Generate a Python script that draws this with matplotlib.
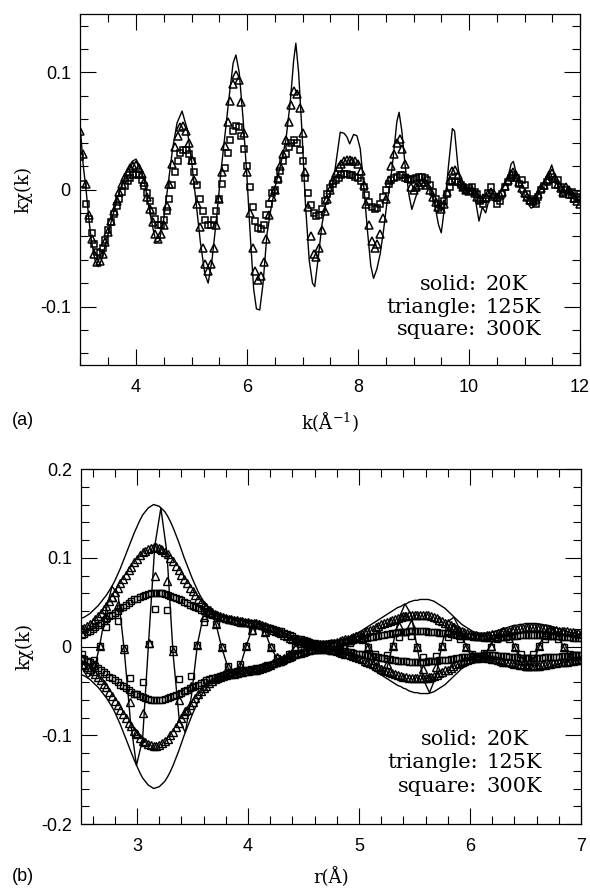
import numpy as np
import matplotlib
matplotlib.use('Agg')
import matplotlib.pyplot as plt
from matplotlib.ticker import MultipleLocator, FuncFormatter

plt.rcParams['font.family'] = 'Liberation Sans'
plt.rcParams['mathtext.fontset'] = 'dejavuserif'
plt.rcParams['mathtext.default'] = 'regular'
SERIF = 'DejaVu Serif'

# ---------------- (a) k-space chi(k) ----------------
# 20K, drawn as a line
k_20 = [3.00, 3.05, 3.10, 3.15, 3.20, 3.26, 3.32, 3.38, 3.45, 3.55,
        3.65, 3.75, 3.85, 3.93, 4.00, 4.07, 4.15, 4.22, 4.30, 4.36,
        4.42, 4.50, 4.58, 4.66, 4.74, 4.83, 4.92, 5.00, 5.08, 5.16,
        5.24, 5.30, 5.37, 5.45, 5.53, 5.60, 5.68, 5.75, 5.80, 5.86,
        5.93, 6.00, 6.06, 6.12, 6.17, 6.23, 6.29, 6.36, 6.43, 6.52,
        6.60, 6.70, 6.78, 6.84, 6.88, 6.93, 6.99, 7.05, 7.12, 7.18,
        7.22, 7.28, 7.35, 7.42, 7.50, 7.58, 7.64, 7.68, 7.75, 7.80,
        7.85, 7.92, 7.98, 8.04, 8.10, 8.17, 8.23, 8.28, 8.34, 8.40,
        8.46, 8.52, 8.58, 8.64, 8.70, 8.74, 8.79, 8.85, 8.92, 8.97,
        9.03, 9.10, 9.20, 9.30, 9.38, 9.45, 9.50, 9.56, 9.63, 9.70,
        9.74, 9.80, 9.86, 9.95, 10.05, 10.12, 10.18, 10.24, 10.30, 10.38,
        10.46, 10.55, 10.62, 10.70, 10.76, 10.80, 10.86, 10.93, 11.00, 11.06,
        11.12, 11.18, 11.26, 11.34, 11.42, 11.49, 11.55, 11.62, 11.70, 11.78,
        11.86, 11.94, 12.00]
chi_20 = [0.050, 0.020, 0.000, -0.025, -0.045, -0.060, -0.066, -0.060, -0.047, -0.028,
          -0.010, 0.005, 0.017, 0.024, 0.026, 0.020, 0.007, -0.012, -0.032, -0.045,
          -0.044, -0.025, 0.005, 0.035, 0.057, 0.067, 0.052, 0.025, -0.010, -0.045,
          -0.072, -0.080, -0.060, -0.025, 0.015, 0.045, 0.080, 0.108, 0.115, 0.100,
          0.060, 0.010, -0.040, -0.085, -0.102, -0.103, -0.080, -0.038, -0.017, 0.005,
          0.020, 0.042, 0.075, 0.110, 0.125, 0.100, 0.050, -0.010, -0.060, -0.080,
          -0.083, -0.060, -0.030, -0.012, -0.005, 0.015, 0.035, 0.049, 0.048, 0.045,
          0.039, 0.047, 0.046, 0.035, 0.005, -0.035, -0.065, -0.076, -0.068, -0.055,
          -0.035, -0.012, 0.005, 0.030, 0.058, 0.066, 0.050, 0.020, -0.005, -0.017,
          -0.008, 0.002, 0.008, 0.002, -0.012, -0.030, -0.037, -0.015, 0.020, 0.052,
          0.050, 0.020, 0.000, -0.004, 0.003, -0.010, -0.027, -0.015, -0.020, -0.005,
          -0.008, -0.003, 0.002, 0.010, 0.022, 0.024, 0.012, -0.003, -0.008, -0.012,
          -0.016, -0.014, -0.002, 0.005, 0.012, 0.021, 0.012, 0.000, -0.006, 0.003,
          -0.002, -0.008, -0.004]

# 125K and 300K, sampled every 0.05 1/A from 3 to 12
k_grid = np.round(np.arange(3.0, 12.001, 0.05), 2)
chi_125 = [0.050, 0.030, 0.005, -0.022, -0.042, -0.055, -0.062, -0.061, -0.055, -0.045,
           -0.036, -0.027, -0.018, -0.010, -0.002, 0.005, 0.011, 0.015, 0.018, 0.020,
           0.021, 0.018, 0.013, 0.006, -0.006, -0.017, -0.028, -0.038, -0.042, -0.038,
           -0.030, -0.014, 0.005, 0.022, 0.036, 0.046, 0.053, 0.054, 0.050, 0.040,
           0.025, 0.008, -0.012, -0.032, -0.050, -0.064, -0.070, -0.064, -0.050, -0.030,
           -0.008, 0.015, 0.037, 0.058, 0.076, 0.090, 0.098, 0.094, 0.075, 0.048,
           0.015, -0.020, -0.050, -0.070, -0.077, -0.074, -0.062, -0.042, -0.022, -0.006,
           0.000, 0.010, 0.020, 0.030, 0.042, 0.058, 0.072, 0.084, 0.082, 0.070,
           0.048, 0.015, -0.015, -0.040, -0.055, -0.058, -0.050, -0.035, -0.018, -0.008,
           0.000, 0.008, 0.014, 0.019, 0.022, 0.024, 0.025, 0.025, 0.024, 0.024,
           0.022, 0.016, 0.004, -0.012, -0.030, -0.044, -0.050, -0.047, -0.038, -0.024,
           -0.008, 0.008, 0.020, 0.030, 0.040, 0.043, 0.035, 0.022, 0.010, 0.002,
           0.000, 0.002, 0.004, 0.006, 0.006, 0.004, 0.000, -0.006, -0.011, -0.015,
           -0.017, -0.012, -0.002, 0.008, 0.016, 0.017, 0.012, 0.006, 0.002, 0.000,
           -0.001, 0.000, -0.003, -0.006, -0.008, -0.007, -0.006, -0.004, -0.002, -0.004,
           -0.006, -0.005, -0.002, 0.003, 0.008, 0.013, 0.015, 0.012, 0.006, 0.001,
           -0.003, -0.006, -0.009, -0.010, -0.008, -0.004, 0.001, 0.004, 0.008, 0.012,
           0.014, 0.010, 0.005, 0.001, -0.002, 0.002, 0.000, -0.004, -0.007, -0.010,
           -0.012]
chi_300 = [0.028, 0.005, -0.012, -0.025, -0.037, -0.047, -0.053, -0.054, -0.050, -0.043,
           -0.035, -0.028, -0.021, -0.014, -0.008, -0.002, 0.003, 0.007, 0.010, 0.012,
           0.013, 0.012, 0.008, 0.003, -0.003, -0.010, -0.018, -0.025, -0.030, -0.030,
           -0.026, -0.018, -0.008, 0.004, 0.015, 0.024, 0.031, 0.034, 0.034, 0.030,
           0.024, 0.015, 0.004, -0.008, -0.018, -0.026, -0.030, -0.030, -0.026, -0.018,
           -0.008, 0.005, 0.018, 0.031, 0.042, 0.050, 0.054, 0.053, 0.046, 0.035,
           0.020, 0.002, -0.015, -0.027, -0.033, -0.034, -0.030, -0.022, -0.012, -0.003,
           0.000, 0.008, 0.016, 0.024, 0.030, 0.036, 0.040, 0.042, 0.040, 0.034,
           0.024, 0.010, -0.003, -0.013, -0.020, -0.023, -0.022, -0.017, -0.010, -0.004,
           0.001, 0.005, 0.008, 0.010, 0.012, 0.013, 0.013, 0.012, 0.012, 0.011,
           0.010, 0.007, 0.002, -0.005, -0.011, -0.015, -0.017, -0.016, -0.012, -0.006,
           0.000, 0.005, 0.008, 0.010, 0.011, 0.012, 0.012, 0.010, 0.009, 0.008,
           0.009, 0.010, 0.011, 0.011, 0.010, 0.008, 0.004, -0.002, -0.008, -0.012,
           -0.014, -0.010, -0.004, 0.002, 0.006, 0.007, 0.006, 0.004, 0.002, 0.000,
           0.001, 0.002, -0.002, -0.004, -0.010, -0.012, -0.008, -0.003, 0.002, -0.006,
           -0.012, -0.010, -0.004, 0.002, 0.006, 0.010, 0.012, 0.010, 0.005, 0.008,
           0.004, -0.004, -0.010, -0.008, -0.012, -0.006, 0.000, 0.003, 0.006, 0.008,
           0.011, 0.004, 0.008, 0.002, -0.004, 0.000, -0.005, -0.002, -0.008, -0.006,
           -0.004]

# ---------------- (b) r-space transform ----------------
# magnitude, every 0.025 A from 2.5 to 7
r_mag = np.round(np.arange(2.5, 7.0001, 0.025), 3)
mag_20 = [0.032, 0.033, 0.035, 0.037, 0.040, 0.043, 0.046, 0.050, 0.054, 0.058,
          0.063, 0.068, 0.074, 0.081, 0.088, 0.096, 0.104, 0.112, 0.120, 0.128,
          0.135, 0.142, 0.148, 0.152, 0.156, 0.158, 0.160, 0.159, 0.158, 0.155,
          0.152, 0.147, 0.141, 0.134, 0.126, 0.118, 0.109, 0.100, 0.092, 0.084,
          0.076, 0.069, 0.062, 0.056, 0.051, 0.047, 0.043, 0.040, 0.038, 0.036,
          0.035, 0.034, 0.034, 0.033, 0.033, 0.032, 0.032, 0.031, 0.031, 0.030,
          0.030, 0.029, 0.029, 0.028, 0.027, 0.026, 0.025, 0.024, 0.023, 0.021,
          0.020, 0.018, 0.017, 0.015, 0.014, 0.012, 0.011, 0.009, 0.008, 0.007,
          0.006, 0.005, 0.005, 0.004, 0.004, 0.004, 0.004, 0.004, 0.004, 0.004,
          0.005, 0.005, 0.006, 0.007, 0.008, 0.009, 0.010, 0.011, 0.013, 0.014,
          0.016, 0.018, 0.020, 0.022, 0.024, 0.026, 0.028, 0.030, 0.032, 0.034,
          0.036, 0.038, 0.040, 0.042, 0.044, 0.045, 0.047, 0.048, 0.050, 0.051,
          0.052, 0.052, 0.053, 0.053, 0.053, 0.053, 0.052, 0.051, 0.049, 0.047,
          0.045, 0.043, 0.040, 0.037, 0.034, 0.031, 0.028, 0.025, 0.023, 0.021,
          0.019, 0.017, 0.016, 0.015, 0.015, 0.015, 0.015, 0.015, 0.016, 0.017,
          0.018, 0.019, 0.020, 0.021, 0.022, 0.023, 0.024, 0.024, 0.025, 0.025,
          0.026, 0.026, 0.026, 0.026, 0.026, 0.025, 0.025, 0.024, 0.024, 0.023,
          0.022, 0.021, 0.020, 0.019, 0.018, 0.017, 0.016, 0.015, 0.015, 0.014,
          0.014]
mag_125 = [0.020, 0.021, 0.023, 0.025, 0.028, 0.031, 0.034, 0.038, 0.042, 0.046,
           0.051, 0.056, 0.061, 0.066, 0.071, 0.076, 0.081, 0.086, 0.090, 0.095,
           0.099, 0.103, 0.106, 0.108, 0.110, 0.111, 0.112, 0.112, 0.111, 0.109,
           0.107, 0.104, 0.100, 0.096, 0.091, 0.086, 0.081, 0.076, 0.071, 0.066,
           0.062, 0.058, 0.054, 0.050, 0.047, 0.044, 0.041, 0.039, 0.037, 0.035,
           0.034, 0.033, 0.032, 0.031, 0.031, 0.030, 0.030, 0.029, 0.029, 0.028,
           0.028, 0.027, 0.027, 0.026, 0.025, 0.024, 0.023, 0.022, 0.021, 0.019,
           0.018, 0.016, 0.015, 0.013, 0.012, 0.010, 0.009, 0.008, 0.007, 0.006,
           0.005, 0.004, 0.004, 0.003, 0.003, 0.003, 0.003, 0.003, 0.003, 0.003,
           0.004, 0.004, 0.005, 0.006, 0.007, 0.008, 0.009, 0.010, 0.011, 0.012,
           0.013, 0.014, 0.016, 0.017, 0.019, 0.020, 0.022, 0.023, 0.025, 0.026,
           0.028, 0.029, 0.030, 0.031, 0.032, 0.033, 0.034, 0.034, 0.035, 0.035,
           0.036, 0.036, 0.036, 0.036, 0.035, 0.035, 0.034, 0.033, 0.032, 0.030,
           0.029, 0.027, 0.026, 0.024, 0.022, 0.020, 0.019, 0.017, 0.016, 0.015,
           0.014, 0.013, 0.013, 0.012, 0.012, 0.012, 0.013, 0.013, 0.014, 0.014,
           0.015, 0.016, 0.017, 0.017, 0.018, 0.019, 0.020, 0.020, 0.021, 0.021,
           0.022, 0.022, 0.022, 0.022, 0.022, 0.022, 0.021, 0.021, 0.020, 0.020,
           0.019, 0.019, 0.018, 0.018, 0.017, 0.017, 0.016, 0.016, 0.015, 0.015,
           0.014]
mag_300 = [0.013, 0.014, 0.016, 0.018, 0.020, 0.022, 0.024, 0.026, 0.029, 0.031,
           0.034, 0.036, 0.038, 0.040, 0.043, 0.045, 0.047, 0.049, 0.051, 0.053,
           0.054, 0.056, 0.057, 0.058, 0.059, 0.060, 0.060, 0.060, 0.060, 0.060,
           0.059, 0.058, 0.057, 0.056, 0.055, 0.053, 0.052, 0.050, 0.049, 0.047,
           0.046, 0.044, 0.043, 0.041, 0.040, 0.038, 0.037, 0.036, 0.035, 0.034,
           0.033, 0.032, 0.031, 0.030, 0.030, 0.029, 0.028, 0.027, 0.027, 0.026,
           0.026, 0.025, 0.025, 0.024, 0.024, 0.023, 0.022, 0.021, 0.021, 0.020,
           0.019, 0.018, 0.017, 0.015, 0.014, 0.013, 0.012, 0.010, 0.009, 0.008,
           0.007, 0.006, 0.005, 0.004, 0.004, 0.003, 0.003, 0.003, 0.003, 0.003,
           0.004, 0.004, 0.004, 0.004, 0.005, 0.005, 0.006, 0.006, 0.007, 0.008,
           0.009, 0.009, 0.010, 0.010, 0.011, 0.011, 0.012, 0.012, 0.013, 0.013,
           0.014, 0.014, 0.015, 0.015, 0.016, 0.016, 0.016, 0.016, 0.017, 0.017,
           0.017, 0.017, 0.017, 0.017, 0.017, 0.016, 0.016, 0.016, 0.016, 0.015,
           0.015, 0.015, 0.015, 0.014, 0.014, 0.013, 0.013, 0.012, 0.012, 0.012,
           0.012, 0.011, 0.011, 0.011, 0.011, 0.010, 0.010, 0.010, 0.010, 0.010,
           0.011, 0.011, 0.011, 0.011, 0.012, 0.012, 0.012, 0.012, 0.013, 0.013,
           0.013, 0.013, 0.013, 0.013, 0.013, 0.013, 0.013, 0.012, 0.012, 0.012,
           0.012, 0.012, 0.012, 0.011, 0.011, 0.011, 0.011, 0.010, 0.010, 0.010,
           0.010]

# real part, every 0.055 A from 2.5
r_re = np.round(2.5 + 0.055 * np.arange(82), 3)
re_20 = [-0.023, -0.035, -0.029, 0.002, 0.040, 0.068, 0.058, -0.004,
         -0.083, -0.134, -0.105, 0.006, 0.113, 0.156, 0.105, -0.008,
         -0.082, -0.097, -0.056, 0.003, 0.036, 0.042, 0.026, -0.002,
         -0.024, -0.033, -0.022, 0.001, 0.021, 0.027, 0.018, -0.001,
         -0.013, -0.016, -0.009, 0.000, 0.005, 0.005, 0.003, 0.000,
         -0.003, -0.005, -0.004, 0.001, 0.008, 0.015, 0.013, 0.000,
         -0.019, -0.032, -0.025, 0.002, 0.032, 0.048, 0.036, -0.002,
         -0.037, -0.052, -0.035, 0.001, 0.028, 0.033, 0.019, 0.000,
         -0.013, -0.016, -0.011, 0.001, 0.013, 0.020, 0.016, -0.001,
         -0.018, -0.026, -0.018, 0.001, 0.017, 0.022, 0.014, -0.001,
         -0.011, -0.015]
re_125 = [-0.014, -0.023, -0.021, 0.001, 0.033, 0.056, 0.047, -0.003,
          -0.062, -0.098, -0.075, 0.004, 0.079, 0.110, 0.074, -0.005,
          -0.060, -0.073, -0.045, 0.002, 0.033, 0.041, 0.025, -0.001,
          -0.023, -0.031, -0.021, 0.001, 0.019, 0.025, 0.016, -0.001,
          -0.012, -0.014, -0.008, 0.000, 0.004, 0.004, 0.002, 0.000,
          -0.002, -0.004, -0.004, 0.001, 0.007, 0.012, 0.011, 0.000,
          -0.015, -0.025, -0.020, 0.001, 0.023, 0.034, 0.025, -0.001,
          -0.025, -0.034, -0.023, 0.001, 0.018, 0.022, 0.013, 0.000,
          -0.010, -0.013, -0.008, 0.001, 0.011, 0.017, 0.013, -0.001,
          -0.015, -0.022, -0.016, 0.001, 0.014, 0.019, 0.013, -0.001,
          -0.011, -0.015]
re_300 = [-0.009, -0.016, -0.015, 0.001, 0.022, 0.036, 0.029, -0.002,
          -0.035, -0.054, -0.040, 0.003, 0.042, 0.060, 0.041, -0.003,
          -0.037, -0.050, -0.033, 0.002, 0.028, 0.037, 0.025, -0.001,
          -0.022, -0.029, -0.020, 0.001, 0.018, 0.024, 0.016, -0.001,
          -0.013, -0.016, -0.009, 0.000, 0.006, 0.006, 0.003, 0.000,
          -0.002, -0.004, -0.003, 0.000, 0.004, 0.008, 0.007, 0.000,
          -0.008, -0.013, -0.010, 0.001, 0.011, 0.016, 0.012, 0.000,
          -0.012, -0.016, -0.011, 0.001, 0.011, 0.014, 0.009, 0.000,
          -0.008, -0.011, -0.007, 0.000, 0.008, 0.011, 0.008, 0.000,
          -0.009, -0.013, -0.009, 0.001, 0.008, 0.012, 0.008, 0.000,
          -0.008, -0.010]

key_names = ['solid:', 'triangle:', 'square:']
key_temps = ['20K', '125K', '300K']

tri_a = dict(ls='none', marker='^', mfc='none', mec='black', mew=1.1, ms=6)
sq_a = dict(ls='none', marker='s', mfc='none', mec='black', mew=1.1, ms=5)
tri_b = dict(ls='none', marker='^', mfc='none', mec='black', mew=1.0, ms=5.5)
sq_b = dict(ls='none', marker='s', mfc='none', mec='black', mew=1.0, ms=5)


def dress(ax, xmaj, xmin, ymaj, ymin):
    ax.xaxis.set_major_locator(MultipleLocator(xmaj))
    ax.xaxis.set_minor_locator(MultipleLocator(xmin))
    ax.yaxis.set_major_locator(MultipleLocator(ymaj))
    ax.yaxis.set_minor_locator(MultipleLocator(ymin))
    fmt = FuncFormatter(lambda v, p: '%g' % (round(v, 3) + 0.0))
    ax.xaxis.set_major_formatter(fmt)
    ax.yaxis.set_major_formatter(fmt)
    ax.tick_params(which='both', direction='in', top=True, right=True,
                   width=0.8, labelsize=13)
    ax.tick_params(which='major', length=11.5)
    ax.tick_params(which='minor', length=5.8)
    ax.tick_params(axis='x', pad=10)
    ax.tick_params(axis='y', pad=7)
    for sp in ax.spines.values():
        sp.set_linewidth(0.9)
    ax.set_ylabel('kχ(k)', fontfamily=SERIF, fontsize=13)
    ax.yaxis.set_label_coords(-0.097, 0.5)


def key(ax, rows):
    for name, temp, y in zip(key_names, key_temps, rows):
        ax.text(0.793, y, name, ha='right', va='center', transform=ax.transAxes,
                fontfamily=SERIF, fontsize=15)
        ax.text(0.810, y, temp, ha='left', va='center', transform=ax.transAxes,
                fontfamily=SERIF, fontsize=15)


fig = plt.figure(figsize=(5.9, 8.88), dpi=100)
ax1 = fig.add_axes([80.5 / 590, 1 - 365 / 888, 499.5 / 590, 351 / 888])
ax2 = fig.add_axes([81.5 / 590, 1 - 824 / 888, 499.5 / 590, 355 / 888])

# (a)
ax1.plot(k_20, chi_20, color='black', lw=1.0)
ax1.plot(k_grid, chi_125, **tri_a)
ax1.plot(k_grid, chi_300, **sq_a)
ax1.set_xlim(3, 12)
ax1.set_ylim(-0.15, 0.15)
dress(ax1, 2, 0.5, 0.1, 0.02)
ax1.set_xlabel('k(Å$^{-1}$)', fontfamily=SERIF, fontsize=13)
ax1.xaxis.set_label_coords(0.5, -0.13)
key(ax1, [0.228, 0.165, 0.102])

# (b): magnitude as +/- envelope, plus the real part
ax2.plot(r_mag, mag_20, color='black', lw=1.0)
ax2.plot(r_mag, -np.array(mag_20), color='black', lw=1.0)
ax2.plot(r_re, re_20, color='black', lw=1.0)
ax2.plot(r_mag, mag_125, **tri_b)
ax2.plot(r_mag, -np.array(mag_125), **tri_b)
ax2.plot(r_re, re_125, **tri_b)
ax2.plot(r_mag, mag_300, **sq_b)
ax2.plot(r_mag, -np.array(mag_300), **sq_b)
ax2.plot(r_re, re_300, **sq_b)
ax2.set_xlim(2.5, 7)
ax2.set_ylim(-0.2, 0.2)
dress(ax2, 1, 0.2, 0.1, 0.02)
ax2.set_xlabel('r(Å)', fontfamily=SERIF, fontsize=13)
ax2.xaxis.set_label_coords(0.5, -0.122)
key(ax2, [0.237, 0.172, 0.105])

fig.text(12 / 590, 1 - 420 / 888, '(a)', fontsize=13, ha='left', va='center')
fig.text(12 / 590, 1 - 876 / 888, '(b)', fontsize=13, ha='left', va='center')

fig.savefig('out.png', dpi=100)
